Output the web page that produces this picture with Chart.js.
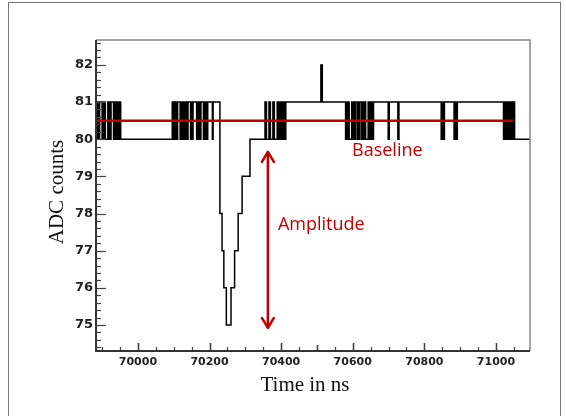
<!DOCTYPE html>
<html>
<head>
<meta charset="utf-8">
<script src="https://cdn.jsdelivr.net/npm/chart.js@4.4.1/dist/chart.umd.min.js"></script>
<style>
  html, body { margin: 0; padding: 0; background: #fff; }
  #wrap { position: relative; width: 566px; height: 416px; overflow: hidden; }
  #frame { position: absolute; left: 8px; top: 2px; width: 551px; height: 430px; border: 1px solid #777; }
  canvas { position: absolute; left: 0; top: 0; }
</style>
</head>
<body>
<div id="wrap">
  <div id="frame"></div>
  <canvas id="chart" width="566" height="416"></canvas>
</div>
<script>
// ================= DATA =================
// ADC samples, one entry per level change (time in ns, value in counts)
const sampleTimes = [
  // noise at start
  69883, 69886, 69888, 69891, 69893, 69900, 69902, 69905, 69907, 69909, 69916, 69918,
  69921, 69923, 69925, 69932, 69934, 69937, 69939, 69942, 69944, 69947, 69949, 69952,
  // noise before pulse
  70096, 70099, 70101, 70104, 70106, 70109, 70111, 70118, 70120, 70123,
  70125, 70128, 70130, 70133, 70135, 70138, 70140, 70147, 70149, 70152,
  70154, 70164, 70166, 70169, 70171, 70174, 70176, 70183, 70185, 70188,
  70190, 70193, 70195, 70208, 70210,
  // pulse
  70229, 70235, 70240, 70247, 70260, 70270, 70280, 70291, 70313,
  // noise after pulse
  70355, 70359, 70366, 70370, 70377, 70381, 70389, 70392, 70396, 70399, 70402,
  70405, 70408, 70411, 70413,
  // spike
  70511, 70515,
  // noise
  70580, 70583, 70585, 70588, 70590, 70597, 70599, 70602, 70604, 70607, 70612, 70615, 70617,
  70620, 70625, 70627, 70631, 70634, 70636, 70643, 70645, 70648, 70650, 70653, 70655, 70658,
  // single dips
  70699, 70702, 70726, 70729, 70847, 70850, 70853, 70856, 70883, 70886, 70889, 70892,
  // noise at end
  71021, 71024, 71027, 71030, 71033, 71036, 71039, 71042, 71045, 71048, 71052, 71095
];
const adcCounts = [
  81, 80, 81, 80, 81, 80, 81, 80, 81, 80, 81, 80,
  81, 80, 81, 80, 81, 80, 81, 80, 81, 80, 81, 80,
  81, 80, 81, 80, 81, 80, 81, 80, 81, 80,
  81, 80, 81, 80, 81, 80, 81, 80, 81, 80,
  81, 80, 81, 80, 81, 80, 81, 80, 81, 80,
  81, 80, 81, 80, 81,
  78, 77, 76, 75, 76, 77, 78, 79, 80,
  81, 80, 81, 80, 81, 80, 81, 80, 81, 80, 81,
  80, 81, 80, 81,
  82, 81,
  80, 81, 80, 81, 80, 81, 80, 81, 80, 81, 80, 81, 80,
  81, 80, 81, 80, 81, 80, 81, 80, 81, 80, 81, 80, 81,
  80, 81, 80, 81, 80, 81, 80, 81, 80, 81, 80, 81,
  80, 81, 80, 81, 80, 81, 80, 81, 80, 81, 80, 80
];

const baselineTimes = [69885, 71048];
const baselineCounts = [80.5, 80.5];

const amplitudeTimes = [70363, 70363];
const amplitudeCounts = [79.66, 74.92];

const xTickValues = [70000, 70200, 70400, 70600, 70800, 71000];
const yTickValues = [75, 76, 77, 78, 79, 80, 81, 82];

const RED = "#c00000";

// ================= PLUGIN =================
// frame, inside ticks, arrow heads, labels
const decorations = {
  id: "decorations",
  afterDatasetsDraw(chart) {
    const ctx = chart.ctx;
    const a = chart.chartArea;
    const xs = chart.scales.x;
    const ys = chart.scales.y;
    ctx.save();

    // ticks drawn inside the frame
    ctx.strokeStyle = "#444";
    ctx.lineWidth = 1.2;
    for (let v = 74.4; v < 82.7; v += 0.2) {
      const r = Math.round(v * 10) / 10;
      const len = Number.isInteger(r) ? 10 : 5;
      const y = Math.round(ys.getPixelForValue(r)) + 0.5;
      ctx.beginPath();
      ctx.moveTo(a.left, y);
      ctx.lineTo(a.left + len, y);
      ctx.stroke();
    }
    for (let v = 69900; v <= 71050; v += 50) {
      let len = 4;
      if (v % 200 === 0) len = 8;
      else if (v === 70500) len = 6;
      const x = Math.round(xs.getPixelForValue(v)) + 0.5;
      ctx.lineWidth = len > 4 ? 1.6 : 1.2;
      ctx.beginPath();
      ctx.moveTo(x, a.bottom);
      ctx.lineTo(x, a.bottom - len);
      ctx.stroke();
    }

    // frame
    ctx.strokeStyle = "#888";
    ctx.lineWidth = 1.5;
    ctx.beginPath();
    ctx.moveTo(a.left, a.top);
    ctx.lineTo(a.right, a.top);
    ctx.lineTo(a.right, a.bottom);
    ctx.stroke();
    ctx.strokeStyle = "#333";
    ctx.lineWidth = 2;
    ctx.beginPath();
    ctx.moveTo(a.left, a.top);
    ctx.lineTo(a.left, a.bottom);
    ctx.lineTo(a.right, a.bottom);
    ctx.stroke();

    // arrow heads on the amplitude line
    const pts = chart.getDatasetMeta(1).data;
    ctx.strokeStyle = RED;
    ctx.lineWidth = 2.5;
    ctx.lineCap = "round";
    ctx.lineJoin = "round";
    [[pts[0], 1], [pts[1], -1]].forEach(([p, dir]) => {
      ctx.beginPath();
      ctx.moveTo(p.x - 6, p.y + dir * 10);
      ctx.lineTo(p.x, p.y);
      ctx.lineTo(p.x + 6, p.y + dir * 10);
      ctx.stroke();
    });

    // annotations
    ctx.fillStyle = RED;
    ctx.font = '18px "Open Sans"';
    ctx.textAlign = "left";
    ctx.textBaseline = "middle";
    ctx.fillText("Baseline", xs.getPixelForValue(70598), ys.getPixelForValue(79.68));
    ctx.fillText("Amplitude", xs.getPixelForValue(70391), ys.getPixelForValue(77.69));

    // axis titles
    ctx.fillStyle = "#111";
    ctx.font = '21px "Liberation Serif"';
    ctx.textAlign = "center";
    ctx.textBaseline = "alphabetic";
    ctx.fillText("Time in ns", 305, 391);
    ctx.translate(63, 192);
    ctx.rotate(-Math.PI / 2);
    ctx.fillText("ADC counts", 0, 0);

    ctx.restore();
  }
};

// ================= CHART =================
const waveform = sampleTimes.map((t, i) => ({ x: t, y: adcCounts[i] }));
const baseline = baselineTimes.map((t, i) => ({ x: t, y: baselineCounts[i] }));
const amplitude = amplitudeTimes.map((t, i) => ({ x: t, y: amplitudeCounts[i] }));

new Chart(document.getElementById("chart"), {
  type: "line",
  data: {
    datasets: [
      { data: baseline, borderColor: RED, borderWidth: 2.5, pointRadius: 0 },
      { data: amplitude, borderColor: RED, borderWidth: 2.5, pointRadius: 0 },
      { data: waveform, borderColor: "#000", borderWidth: 1.5, pointRadius: 0, stepped: true }
    ]
  },
  options: {
    responsive: false,
    animation: false,
    devicePixelRatio: 1,
    layout: { padding: { top: 40, right: 36, left: 0, bottom: 0 } },
    plugins: { legend: { display: false }, tooltip: { enabled: false } },
    scales: {
      x: {
        type: "linear",
        min: 69883,
        max: 71095,
        grid: { display: false, drawTicks: false },
        border: { display: false },
        afterBuildTicks: s => { s.ticks = xTickValues.map(v => ({ value: v })); },
        afterFit: s => { s.height = 65; },
        ticks: {
          padding: 5,
          color: "#222",
          font: { family: "DejaVu Sans", weight: "bold", size: 11 },
          callback: v => String(v)
        }
      },
      y: {
        min: 74.3,
        max: 82.67,
        grid: { display: false, drawTicks: false },
        border: { display: false },
        afterBuildTicks: s => { s.ticks = yTickValues.map(v => ({ value: v })); },
        afterFit: s => { s.width = 96; },
        ticks: {
          padding: 3,
          color: "#222",
          font: { family: "DejaVu Sans", weight: "bold", size: 13 },
          callback: v => String(v)
        }
      }
    }
  },
  plugins: [decorations]
});
</script>
</body>
</html>
